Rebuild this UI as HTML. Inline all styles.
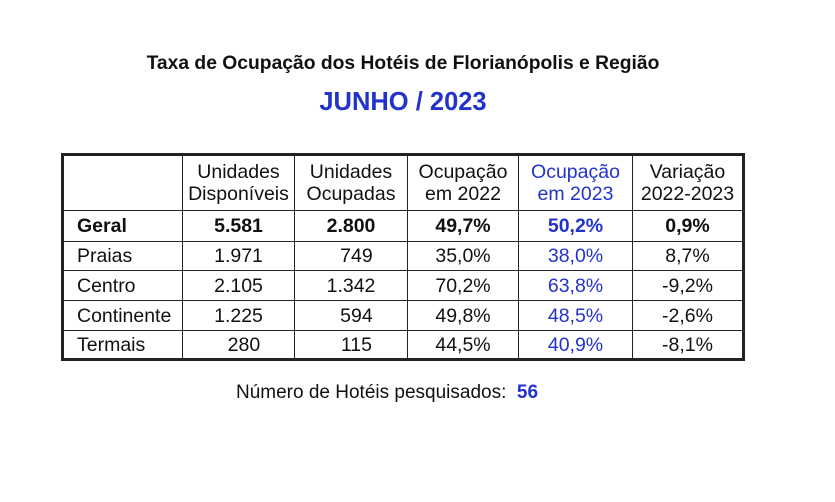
<!DOCTYPE html>
<html><head><meta charset="utf-8"><style>
body{margin:0;width:835px;height:502px;background:#fff;font-family:"Liberation Sans",Arial,sans-serif;color:#111;position:relative;overflow:hidden}
.t{position:absolute;white-space:nowrap}
table{position:absolute;left:61px;top:153px;border-collapse:collapse;font-size:19.5px;table-layout:fixed}
td{border:1.5px solid #222;padding:0;text-align:center;line-height:22px;overflow:visible;white-space:nowrap}
.b td{font-weight:bold}
.bl{color:#2233cc}
.l{text-align:left;padding-left:13px}
</style></head><body>
<div class="t" style="left:0;width:806px;text-align:center;top:53px;font-size:19.3px;font-weight:bold">Taxa de Ocupação dos Hotéis de Florianópolis e Região</div>
<div class="t" style="left:0;width:806px;text-align:center;top:88px;font-size:25.5px;font-weight:bold;color:#2233cc">JUNHO / 2023</div>
<table style="border:3px solid #222;width:681px">
<colgroup><col style="width:120px"><col style="width:112px"><col style="width:113px"><col style="width:111px"><col style="width:114px"><col style="width:111px"></colgroup>
<tr style="height:56px"><td></td><td>Unidades<br>Disponíveis</td><td>Unidades<br>Ocupadas</td><td>Ocupação<br>em 2022</td><td class="bl">Ocupação<br>em 2023</td><td>Variação<br>2022-2023</td></tr>
<tr class="b" style="height:31px"><td class="l">Geral</td><td>5.581</td><td>2.800</td><td>49,7%</td><td class="bl">50,2%</td><td>0,9%</td></tr>
<tr style="height:29px"><td class="l">Praias</td><td>1.971</td><td>&nbsp;&nbsp;749</td><td>35,0%</td><td class="bl">38,0%</td><td>8,7%</td></tr>
<tr style="height:30px"><td class="l">Centro</td><td>2.105</td><td>1.342</td><td>70,2%</td><td class="bl">63,8%</td><td>-9,2%</td></tr>
<tr style="height:30px"><td class="l">Continente</td><td>1.225</td><td>&nbsp;&nbsp;594</td><td>49,8%</td><td class="bl">48,5%</td><td>-2,6%</td></tr>
<tr style="height:29px"><td class="l">Termais</td><td>&nbsp;&nbsp;280</td><td>&nbsp;&nbsp;115</td><td>44,5%</td><td class="bl">40,9%</td><td>-8,1%</td></tr>
</table>
<div class="t" style="left:236px;top:382px;font-size:19px">Número de Hotéis pesquisados: <b style="color:#2233cc">&nbsp;56</b></div>
</body></html>
